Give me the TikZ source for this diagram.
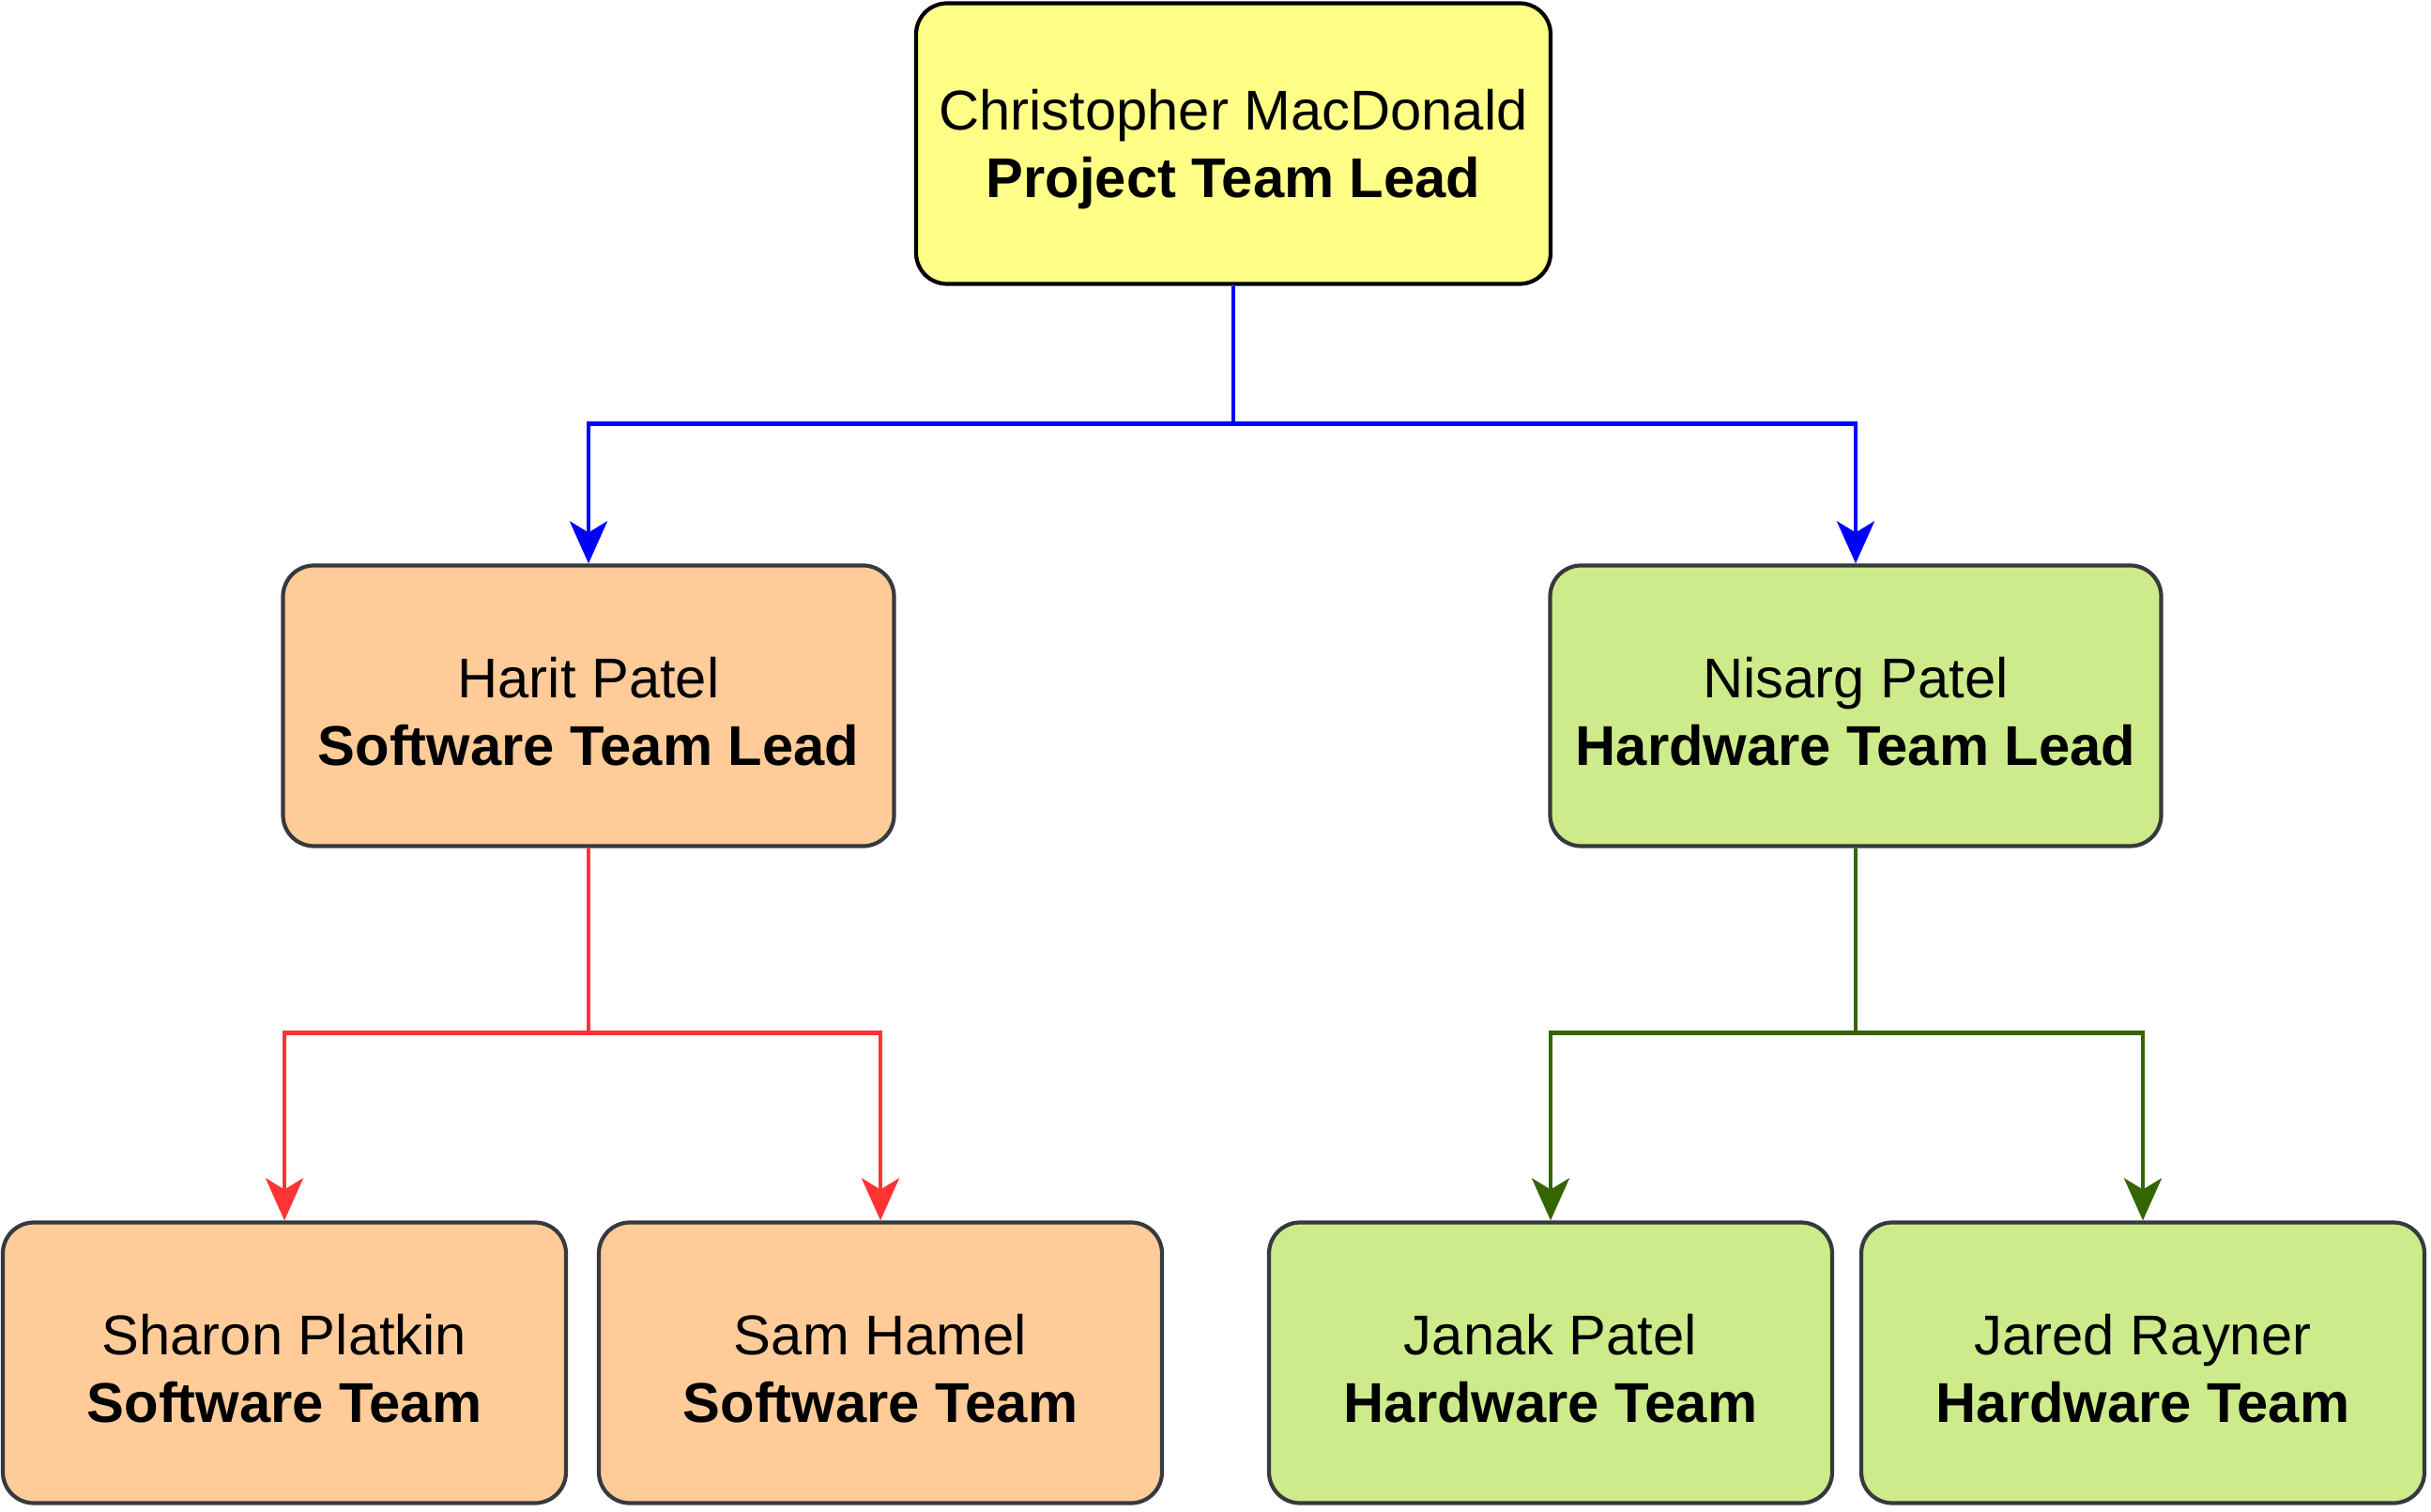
\documentclass[tikz,border=0pt]{standalone}
\usepackage{fontspec}
\setmainfont{Liberation Sans}
\usepackage{xcolor}
\usepackage{tikz}
\usetikzlibrary{arrows.meta, positioning}

\definecolor{leadyellow}{HTML}{FFFF88}
\definecolor{softorange}{HTML}{FFCC99}
\definecolor{hardgreen}{HTML}{CDEB8B}
\definecolor{boxgray}{HTML}{36393D}
\definecolor{linered}{HTML}{FF3333}
\definecolor{linegreen}{HTML}{336600}

% name on top, role in bold below
\newcommand{\namerole}[2]{\rule{0pt}{16pt}#1\\\textbf{#2}}

\begin{document}
\begin{tikzpicture}[
    member/.style={rectangle, draw=boxgray, rounded corners=0.33cm, minimum height=2.99cm, align=center, line width=1.2pt, font=\fontsize{17}{20.5}\selectfont, inner sep=0pt},
    arrow/.style={-{Stealth[length=0.45cm, width=0.4cm, inset=0.12cm]}, line width=1.3pt},
]
\useasboundingbox (0,0) rectangle (25.9,16.1);

% Project lead
\node[member, draw=black, fill=leadyellow, minimum width=6.76cm] (chris) at (13.14,14.57) {\namerole{Christopher MacDonald}{Project Team Lead}};

% Team leads
\node[member, fill=softorange, minimum width=6.51cm] (harit) at (6.27,8.58) {\namerole{Harit Patel}{Software Team Lead}};
\node[member, fill=hardgreen, minimum width=6.51cm] (nisarg) at (19.77,8.58) {\namerole{Nisarg Patel}{Hardware Team Lead}};

% Teams
\node[member, fill=softorange, minimum width=6.0cm] (sharon) at (3.03,1.58) {\namerole{Sharon Platkin}{Software Team}};
\node[member, fill=softorange, minimum width=6.0cm] (sam) at (9.38,1.58) {\namerole{Sam Hamel}{Software Team}};
\node[member, fill=hardgreen, minimum width=6.0cm] (janak) at (16.52,1.58) {\namerole{Janak Patel}{Hardware Team}};
\node[member, fill=hardgreen, minimum width=6.0cm] (jared) at (22.83,1.58) {\namerole{Jared Rayner}{Hardware Team}};

% Connectors
\draw[arrow, blue] (chris.south) -- ++(0,-1.47) -| (harit.north);
\draw[arrow, blue] (chris.south) -- ++(0,-1.47) -| (nisarg.north);
\draw[arrow, linered] (harit.south) -- ++(0,-1.97) -| (sharon.north);
\draw[arrow, linered] (harit.south) -- ++(0,-1.97) -| (sam.north);
\draw[arrow, linegreen] (nisarg.south) -- ++(0,-1.97) -| (janak.north);
\draw[arrow, linegreen] (nisarg.south) -- ++(0,-1.97) -| (jared.north);

\end{tikzpicture}
\end{document}
